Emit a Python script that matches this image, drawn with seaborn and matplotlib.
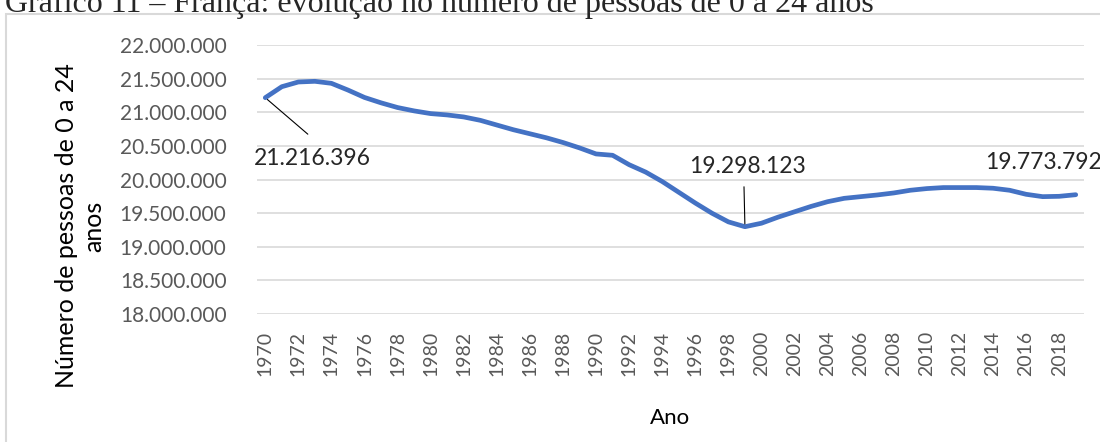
import matplotlib
matplotlib.use("Agg")
import matplotlib.pyplot as plt
import seaborn as sns
import pandas as pd
from matplotlib.patches import Rectangle

# dados: França, pessoas de 0 a 24 anos
anos = list(range(1970, 2020))
valores = [
    21216396, 21380000, 21450000, 21460000, 21430000, 21330000, 21220000, 21140000,
    21070000, 21020000, 20980000, 20960000, 20930000, 20880000, 20810000, 20740000,
    20680000, 20620000, 20550000, 20470000, 20380000, 20360000, 20220000, 20110000,
    19970000, 19810000, 19650000, 19500000, 19370000, 19298123, 19350000, 19440000,
    19520000, 19600000, 19670000, 19720000, 19745000, 19770000, 19800000, 19840000,
    19865000, 19880000, 19880000, 19880000, 19870000, 19840000, 19780000, 19745000,
    19750000, 19773792,
]
rotulos = ["21.216.396", "19.298.123", "19.773.792"]

df = pd.DataFrame({"Ano": anos, "Pessoas": valores})

sns.set_style("white")
plt.rcParams["font.family"] = ["Lato", "DejaVu Sans"]

fig = plt.figure(figsize=(11, 4.42), dpi=100)
ax = fig.add_axes([257 / 1100, 1 - 314 / 442, (1084 - 257) / 1100, (314 - 45) / 442])

sns.lineplot(data=df, x="Ano", y="Pessoas", ax=ax, color="#4472C4", linewidth=3.4,
             solid_joinstyle="round", solid_capstyle="round")

ax.set_xlim(1969.5, 2019.5)
ax.set_ylim(18000000, 22000000)
ax.set_yticks(range(18000000, 22000001, 500000))
ax.set_yticklabels([f"{v:,.0f}".replace(",", ".") for v in range(18000000, 22000001, 500000)])
ax.set_xticks(anos[::2])
ax.set_xticklabels([str(a) for a in anos[::2]], rotation=90)
ax.tick_params(axis="y", length=0, pad=22, labelsize=15, labelcolor="#595959")
ax.tick_params(axis="x", length=0, pad=12, labelsize=14, labelcolor="#595959")
ax.grid(axis="y", color="#d9d9d9", linewidth=1.2)
ax.grid(axis="x", visible=False)
for s in ax.spines.values():
    s.set_visible(False)

ax.set_xlabel("Ano", fontsize=16, color="black")
ax.xaxis.set_label_coords(0.5, -0.35)
ax.set_ylabel("")
fig.text(80 / 1100, 1 - 226 / 442, "Número de pessoas de 0 a 24\nanos", rotation=90,
         ha="center", va="center", multialignment="center", fontsize=18,
         linespacing=1.25, color="black")

# rótulos de dados
ax.text(1972.83, 20305000, rotulos[0], ha="center", va="center", fontsize=16.5)
ax.annotate("", xy=(1970, valores[0]), xytext=(1972.7, 20647000),
            arrowprops=dict(arrowstyle="-", color="black", lw=0.8))
ax.text(1999.13, 20200000, rotulos[1], ha="center", va="center", fontsize=16.5)
ax.annotate("", xy=(1999, valores[29]), xytext=(1998.94, 19933000),
            arrowprops=dict(arrowstyle="-", color="black", lw=0.8))
ax.text(2013.5, 20260000, rotulos[2], ha="left", va="center", fontsize=16.5, clip_on=False)

# moldura do gráfico
fig.patches.append(Rectangle((6 / 1100, -0.1), 1.2, 1.1 - 14 / 442, transform=fig.transFigure,
                             fill=False, edgecolor="#d9d9d9", linewidth=1.5))

fig.text(5 / 1100, 1 - 12 / 442,
         "Gráfico 11 – França: evolução no número de pessoas de 0 a 24 anos",
         family=["Liberation Serif", "DejaVu Serif"], fontsize=23, va="baseline", ha="left")

fig.savefig("out.png", dpi=100, facecolor="white")
